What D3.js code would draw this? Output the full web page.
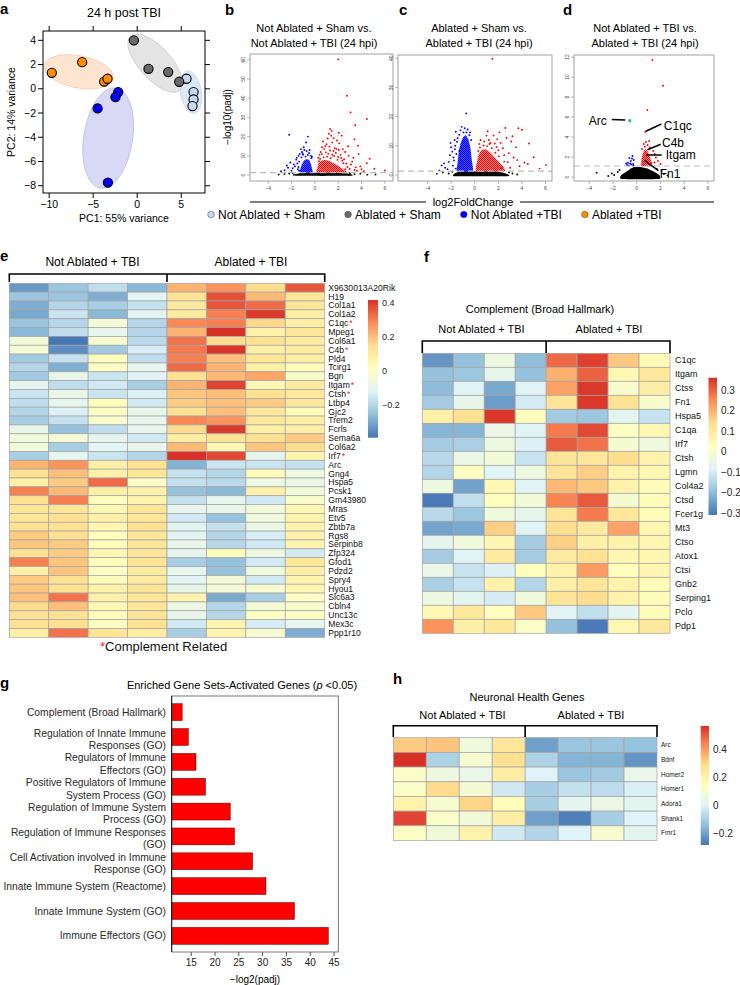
<!DOCTYPE html>
<html>
<head>
<meta charset="utf-8">
<script src="https://cdn.jsdelivr.net/npm/d3@7/dist/d3.min.js"></script>
<style>
  body { margin: 0; background: #fff; }
  svg { font-family: "Liberation Sans", Arial, Helvetica, sans-serif; }
</style>
</head>
<body>
<svg id="fig" width="740" height="985"></svg>
<script>
// ---------------- data ----------------
var groups = ['Not Ablated + Sham', 'Ablated + Sham', 'Not Ablated +TBI', 'Ablated +TBI'];

// panel a: PCA
var pc1 = [5.6, 6.4, 6.4, 6.28, -0.38, 1.28, 3.52, 4.77, -2.16, -2.47, -4.5, -3.33, -9.7, -6.25, -3.75, -3.37];
var pc2 = [0.83, -0.27, -0.88, -1.43, 4.0, 1.65, 1.38, 0.58, -0.27, -0.69, -1.62, -7.74, 1.32, 2.2, 0.6, 0.83];
var pcGroup = [0, 0, 0, 0, 1, 1, 1, 1, 2, 2, 2, 2, 3, 3, 3, 3];
// group ellipses: centre + two semi-axis vectors (PC units)
var ellCx = [6.08, 2.05, -3.3, -6.65];
var ellCy = [-0.27, 2.12, -4.07, 1.4];
var ellAx = [-0.45, 2.78, 0.9, 3.9];
var ellAy = [1.74, -2.23, 4.13, -0.55];
var ellBx = [1.17, -1.34, 2.73, -0.35];
var ellBy = [0.17, -0.88, -0.33, -1.3];
var pcXTicks = [-10, -5, 0, 5];
var pcYTicks = [4, 2, 0, -2, -4, -6, -8];

// panels b-d: volcano plots [log2FC, -log10(padj)]
var volcanoTitles = [
  ['Not Ablated + Sham vs.', 'Not Ablated + TBI (24 hpi)'],
  ['Ablated + Sham vs.', 'Ablated + TBI (24 hpi)'],
  ['Not Ablated + TBI vs.', 'Ablated + TBI (24 hpi)']
];
var volcanoXTicks = [-4, -2, 0, 2, 4, 6];
var volcanoYTicks = [[0, 10, 20, 30, 40, 50, 60], [0, 10, 20, 30, 40], [0, 2, 4, 6, 8, 10, 12]];
var volcanoCutoff = [1.3, 1.3, 1.1];

// dense clouds (outline) + scattered genes
var bBlackCore = [[-1.6, -0.4], [-1.6, 0.5], [-1.1, 1.2], [1.5, 1.2], [2.6, 0.9], [3.1, 0.4], [3.1, -0.4]];
var bBlueCore = [[-1.25, 1.3], [-1.22, 3.5], [-1.1, 5.8], [-0.92, 7.6], [-0.7, 8.4], [-0.5, 7.8], [-0.35, 6], [-0.26, 3.8], [-0.2, 1.3]];
var bRedCore = [[0.2, 1.3], [0.22, 3.8], [0.32, 6], [0.55, 7.4], [0.9, 7.8], [1.3, 7.2], [1.8, 5.6], [2.3, 3.6], [2.6, 2.2], [2.8, 1.3]];
var bBlack = [[-2.2, 0.8], [-2.6, 0.5], [-3.1, 0.3], [-1.9, 1.0], [3.4, 0.4], [3.9, 0.7], [4.5, 0.2], [3.0, 0.9], [-1.8, 0.2], [2.9, 0.2], [-0.9, 1.2], [1.6, 1.2], [5.2, 0.3]];
var bBlue = [[-2.2, 21], [-0.6, 20], [-0.75, 17], [-1.1, 12], [-2.1, 6.5], [-2.4, 5], [-1.6, 8], [-1.4, 10], [-1.9, 3.5], [-2.6, 2.5], [-1.5, 6], [-1.3, 11], [-0.9, 13], [-0.5, 11.5], [-1.7, 4.5], [-2.0, 2.2], [-1.45, 3], [-1.0, 10.5], [-0.7, 12.5], [-1.8, 5.5], [-2.9, 2], [-1.55, 9], [-1.2, 13.5], [-0.35, 10], [-0.95, 14.5], [-0.45, 13], [-1.35, 7], [-2.3, 3.8], [-0.8, 9.6], [-0.6, 10.4], [-1.15, 9.2], [-0.3, 8.8], [-1.4, 4.2], [-1.35, 2.2], [-0.25, 9.5], [-1.05, 11.2]];
var bRed = [[2.0, 60.2], [2.75, 41.3], [3.06, 32.6], [4.46, 29.2], [3.46, 25.9], [1.31, 24], [1.45, 23], [2.3, 20.5], [3.4, 18.6], [3.7, 15.3], [4.7, 8.5], [4.46, 6.1], [6.0, 2.4], [3.9, 4.5], [1.2, 21.5], [1.5, 17], [1.0, 16], [0.8, 13.5], [1.7, 14], [2.1, 16.5], [2.6, 12], [2.9, 10], [1.6, 12.5], [0.5, 12], [3.2, 7], [3.5, 4], [2.2, 10.5], [1.1, 19], [0.9, 15], [1.8, 11.5], [2.5, 8.2], [3.3, 9], [2.7, 6], [0.6, 14.5], [1.4, 20.5], [3.0, 3.2], [4.0, 3], [3.6, 2.2], [1.9, 18], [2.4, 13.5], [0.4, 10.5], [0.7, 17.5], [1.25, 14.8], [2.05, 13], [2.85, 15], [3.1, 5.5], [2.35, 7.5], [0.3, 9], [1.6, 19.2], [0.95, 11.8], [3.75, 11], [4.2, 2], [5.1, 3.3], [2.6, 3], [3.4, 2.6], [2.05, 22], [0.45, 8.4], [0.75, 9.2], [1.05, 9.6], [1.35, 8.8], [1.65, 9.9], [1.95, 7.9], [2.25, 8.9], [0.6, 10.9], [1.15, 11], [1.5, 10.6], [2.0, 9.4], [2.45, 6.1], [2.8, 4.2], [0.35, 7.2], [1.85, 13.6], [1.3, 12.8]];

var cBlackCore = [[-1.7, -0.4], [-1.7, 0.5], [-1.2, 1.2], [1.6, 1.2], [2.4, 0.8], [2.8, 0.3], [2.8, -0.4]];
var cBlueCore = [[-1.5, 1.3], [-1.45, 4], [-1.35, 8], [-1.2, 10.8], [-1.0, 12.8], [-0.78, 13.6], [-0.55, 12.4], [-0.37, 9.5], [-0.24, 5], [-0.16, 1.3]];
var cRedCore = [[0.15, 1.3], [0.2, 4.5], [0.33, 7], [0.6, 8.6], [0.9, 8.8], [1.3, 7.8], [1.8, 5.6], [2.3, 3.4], [2.55, 1.3]];
var cBlack = [[-2.2, 0.5], [-2.7, 0.9], [-3.2, 0.4], [3.2, 0.5], [3.6, 0.2], [-1.9, 1.1], [2.9, 0.9]];
var cBlue = [[-0.72, 21.1], [-1.6, 14.8], [-0.95, 14.6], [-1.3, 8.2], [-1.9, 8], [-2.8, 3.3], [-3.0, 1.6], [-1.7, 12], [-1.65, 10], [-1.8, 6], [-2.2, 4.5], [-2.5, 2.5], [-1.75, 5], [-2.0, 9.5], [-1.2, 15.3], [-0.6, 15.6], [-0.4, 14.6], [-2.3, 2], [-1.85, 3.2], [-2.1, 6.8], [-1.45, 12.6], [-0.85, 16], [-1.1, 16.5], [-2.6, 4], [-1.6, 2.2], [-2.05, 11], [-1.5, 11.4], [-1.55, 7.2], [-0.3, 12], [-0.45, 13.6], [-1.3, 13.8], [-0.7, 14.6], [-1.68, 8.8]];
var cRed = [[1.5, 39.8], [2.6, 16.1], [3.7, 16], [1.6, 13.5], [2.1, 14.6], [4.0, 15.5], [1.9, 12.3], [5.0, 6.1], [4.5, 3.8], [6.05, 3.4], [4.2, 4.3], [2.8, 4.4], [1.2, 12], [0.8, 11.5], [2.4, 9.2], [2.9, 7.5], [3.3, 6], [3.1, 11.5], [2.2, 11], [1.0, 13.5], [0.5, 12], [3.5, 9.5], [2.7, 12.7], [3.8, 3], [3.0, 2.5], [1.7, 10.8], [2.5, 6.8], [3.6, 5.1], [1.35, 11], [0.4, 10.6], [2.0, 8.5], [4.6, 10.8], [3.2, 13.3], [1.1, 15], [5.5, 2.2], [2.3, 2.4], [0.45, 9.4], [0.75, 10.1], [1.05, 9.9], [1.45, 9.2], [1.75, 7.6], [2.05, 6.4], [2.5, 4.6], [0.3, 8.2], [1.25, 10.6], [1.85, 9.6]];

var dBlackCore = [[-1.3, -0.2], [-1.3, 0.2], [-0.9, 0.5], [-0.5, 0.85], [-0.2, 1.0], [0.3, 1.0], [0.9, 0.85], [1.5, 0.5], [1.9, 0.2], [1.9, -0.2]];
var dBlueCore = [];
var dRedCore = [[0.4, 1.1], [0.42, 1.9], [0.55, 2.5], [0.75, 2.8], [0.98, 2.45], [1.18, 1.75], [1.3, 1.1]];
var dBlack = [[-3.38, 0.43], [-2.1, 0.35], [-1.9, 0.2], [-1.6, 0.5], [2.3, 0.3], [2.1, 0.6], [-1.45, 0.7], [1.7, 0.8], [2.6, 0.15], [-2.4, 0.1]];
var dBlue = [[-0.36, 2.1], [-0.73, 1.43], [-0.3, 1.3], [-0.5, 1.6], [-0.62, 1.9], [-0.45, 1.25], [-0.82, 1.2], [-0.25, 1.7], [-0.55, 1.35], [-0.4, 1.85], [-0.68, 1.15], [-0.28, 1.15], [-0.9, 1.35]];
var dRed = [[1.32, 11.7], [2.22, 9.13], [0.9, 6.7], [0.73, 4.53], [0.68, 3.03], [1.52, 2.3], [1.24, 1.37], [0.78, 3.5], [0.92, 3.2], [1.1, 2.95], [0.6, 3.3], [1.8, 1.6], [1.62, 1.95], [0.45, 2.8], [1.4, 2.6], [2.0, 1.3], [1.05, 3.6], [0.85, 2.2], [1.5, 1.45]];
var dGreen = [[-0.59, 5.63]];
var dLabelGenes = ['Arc', 'C1qc', 'C4b', 'Itgam', 'Fn1'];
var dLabelX = [-0.59, 0.73, 0.82, 0.82, 0.68];
var dLabelY = [5.63, 4.53, 2.63, 2.2, 1.63];

// panel e heatmap
var eGenes = ['X9630013A20Rik', 'H19', 'Col1a1', 'Col1a2', 'C1qc', 'Mpeg1', 'Col6a1', 'C4b', 'Pld4', 'Tcirg1',
  'Bgn', 'Itgam', 'Ctsh', 'Ltbp4', 'Gjc2', 'Trem2', 'Fcrls', 'Sema6a', 'Col6a2', 'Irf7',
  'Arc', 'Gng4', 'Hspa5', 'Pcsk1', 'Gm43980', 'Mras', 'Etv5', 'Zbtb7a', 'Rgs8', 'Serpinb8',
  'Zfp324', 'Gfod1', 'Pdzd2', 'Spry4', 'Hyou1', 'Slc6a3', 'Cbln4', 'Unc13c', 'Mex3c', 'Ppp1r10'];
var eComplement = ['C1qc', 'C4b', 'Itgam', 'Ctsh', 'Irf7'];
var eValues = [
  [-0.33, -0.24, -0.18, -0.27, 0.22, 0.27, 0.15, 0.36],
  [-0.24, -0.24, -0.29, -0.11, 0.13, 0.37, 0.21, 0.12],
  [-0.29, -0.2, -0.22, -0.17, 0.11, 0.36, 0.33, 0.12],
  [-0.3, -0.16, -0.27, -0.11, 0.1, 0.3, 0.4, 0.08],
  [-0.24, -0.2, -0.04, -0.2, 0.29, 0.3, 0.16, 0.08],
  [-0.27, -0.18, -0.1, -0.2, 0.22, 0.42, 0.07, 0.12],
  [-0.05, -0.39, -0.03, -0.19, 0.32, 0.15, 0.14, 0.1],
  [-0.04, -0.35, -0.23, -0.14, 0.31, 0.41, 0.08, 0.1],
  [-0.23, -0.17, 0.02, -0.18, 0.3, 0.2, 0.12, 0.08],
  [-0.2, -0.29, 0.0, -0.1, 0.33, 0.22, 0.08, 0.03],
  [-0.23, -0.09, -0.16, -0.12, 0.14, 0.21, 0.24, -0.02],
  [-0.1, -0.18, -0.15, -0.22, 0.22, 0.39, 0.04, 0.1],
  [-0.16, -0.09, -0.16, -0.13, 0.19, 0.2, 0.14, 0.11],
  [-0.18, -0.1, 0.02, -0.15, 0.18, 0.2, 0.18, 0.11],
  [-0.2, -0.13, 0.0, -0.09, 0.14, 0.2, 0.11, 0.03],
  [-0.22, -0.17, -0.02, -0.1, 0.29, 0.27, 0.11, 0.08],
  [-0.09, -0.25, -0.18, -0.1, 0.15, 0.4, 0.08, 0.08],
  [-0.06, -0.04, -0.1, -0.15, 0.09, 0.12, 0.14, 0.18],
  [-0.05, -0.22, -0.11, -0.09, 0.21, 0.04, 0.19, 0.15],
  [-0.22, -0.1, -0.16, -0.2, 0.42, 0.38, -0.1, 0.06],
  [0.22, 0.27, 0.08, 0.14, -0.28, -0.16, -0.16, -0.17],
  [0.14, 0.2, 0.07, 0.12, -0.17, -0.2, 0.03, -0.07],
  [0.08, 0.18, 0.33, -0.01, -0.17, -0.19, -0.07, -0.08],
  [0.3, 0.21, 0.08, 0.07, -0.25, -0.27, 0.07, -0.05],
  [0.14, 0.3, 0.02, 0.06, -0.17, -0.1, -0.15, -0.02],
  [0.12, 0.12, 0.05, 0.12, -0.1, -0.09, -0.05, 0.05],
  [0.12, 0.14, 0.07, 0.12, -0.15, -0.25, -0.06, 0.06],
  [0.14, 0.14, 0.05, 0.14, -0.11, -0.17, -0.08, 0.06],
  [0.18, 0.14, 0.02, 0.12, -0.11, -0.2, -0.14, 0.07],
  [0.19, 0.18, 0.02, 0.12, -0.09, -0.2, -0.15, 0.06],
  [0.14, 0.18, 0.05, 0.12, -0.1, 0.02, -0.07, -0.15],
  [0.3, 0.19, 0.02, 0.13, -0.22, -0.25, -0.15, 0.12],
  [0.08, 0.19, 0.0, 0.1, -0.1, -0.25, -0.06, 0.08],
  [0.18, 0.14, 0.03, 0.1, -0.11, -0.04, -0.15, 0.06],
  [0.19, 0.14, 0.07, 0.13, -0.09, -0.04, -0.03, 0.05],
  [0.2, 0.32, 0.07, 0.13, 0.06, -0.3, -0.22, 0.0],
  [0.15, 0.2, 0.04, 0.12, -0.07, -0.2, -0.04, -0.02],
  [0.14, 0.14, 0.03, 0.13, -0.09, -0.2, 0.0, 0.0],
  [0.14, 0.14, 0.0, 0.14, -0.15, 0.06, -0.14, -0.1],
  [0.08, 0.32, 0.12, 0.09, -0.22, 0.06, -0.03, -0.29]
];
var eRange = [-0.394, 0.416];
var eTicks = [0.4, 0.2, 0, -0.2];

// panel f heatmap
var fGenes = ['C1qc', 'Itgam', 'Ctss', 'Fn1', 'Hspa5', 'C1qa', 'Irf7', 'Ctsh', 'Lgmn', 'Col4a2',
  'Ctsd', 'Fcer1g', 'Mt3', 'Ctso', 'Atox1', 'Ctsi', 'Gnb2', 'Serping1', 'Pclo', 'Pdp1'];
var fValues = [
  [-0.26, -0.19, -0.04, -0.2, 0.29, 0.34, 0.17, 0.04],
  [-0.19, -0.18, -0.06, -0.19, 0.2, 0.3, 0.05, 0.11],
  [-0.2, -0.08, -0.23, -0.08, 0.22, 0.35, 0.0, 0.09],
  [-0.17, -0.06, -0.25, -0.1, 0.12, 0.35, 0.13, 0.0],
  [0.08, 0.13, 0.35, 0.03, -0.17, -0.18, -0.07, -0.12],
  [-0.21, -0.21, -0.05, -0.08, 0.27, 0.33, 0.02, 0.05],
  [-0.17, -0.16, -0.04, -0.09, 0.31, 0.28, -0.01, -0.03],
  [-0.14, -0.05, -0.02, -0.12, 0.12, 0.11, 0.14, 0.07],
  [-0.15, 0.02, -0.08, -0.04, 0.12, 0.16, 0.07, 0.05],
  [-0.04, -0.24, 0.05, -0.08, 0.19, 0.17, 0.07, 0.04],
  [-0.3, -0.13, 0.03, -0.02, 0.26, 0.31, -0.01, 0.04],
  [-0.14, -0.18, -0.03, -0.06, 0.12, 0.27, 0.11, 0.04],
  [-0.24, -0.23, 0.16, -0.08, 0.14, 0.1, 0.22, 0.06],
  [-0.07, -0.03, 0.06, -0.17, 0.16, 0.08, 0.07, 0.06],
  [-0.17, -0.08, 0.1, -0.17, 0.1, 0.13, 0.06, 0.06],
  [-0.05, -0.12, -0.09, 0.03, 0.07, 0.23, 0.03, 0.06],
  [-0.16, -0.12, 0.07, -0.15, 0.08, 0.12, 0.07, 0.04],
  [-0.04, -0.07, -0.1, -0.03, 0.12, 0.14, 0.07, 0.04],
  [0.05, 0.11, 0.03, 0.17, -0.08, -0.13, -0.07, 0.04],
  [0.24, 0.08, 0.11, 0.01, -0.19, -0.3, 0.06, 0.11]
];
var fRange = [-0.308, 0.36];
var fTicks = [0.3, 0.2, 0.1, 0, -0.1, -0.2, -0.3];

// panel g: enriched gene sets
var gTerms = ['Complement (Broad Hallmark)', 'Regulation of Innate Immune|Responses (GO)', 'Regulators of Immune|Effectors (GO)',
  'Positive Regulators of Immune|System Process (GO)', 'Regulation of Immune System|Process (GO)', 'Regulation of Immune Responses|(GO)',
  'Cell Activation involved in Immune|Response (GO)', 'Innate Immune System (Reactome)', 'Innate Immune System (GO)', 'Immune Effectors (GO)'];
var gScores = [13.2, 14.5, 16.1, 18.1, 23.3, 24.2, 28.0, 30.8, 36.8, 43.9];
var gTicks = [15, 20, 25, 30, 35, 40, 45];

// panel h heatmap
var hGenes = ['Arc', 'Bdnf', 'Homer2', 'Homer1', 'Adora1', 'Shank1', 'Fmr1'];
var hValues = [
  [0.32, 0.33, 0.07, 0.25, -0.2, -0.12, -0.12, -0.13],
  [0.56, -0.09, 0.1, 0.28, -0.09, -0.16, -0.16, -0.22],
  [0.12, 0.06, 0.04, 0.22, 0.0, -0.12, -0.11, 0.04],
  [0.12, 0.29, 0.09, -0.03, -0.1, -0.05, -0.06, -0.01],
  [0.2, 0.1, 0.3, 0.15, -0.1, 0.02, 0.05, 0.02],
  [0.53, 0.12, 0.08, 0.22, -0.2, -0.26, -0.1, 0.0],
  [0.13, 0.08, 0.2, -0.03, -0.08, 0.0, 0.1, 0.02]
];
var hRange = [-0.28, 0.563];
var hTicks = [0.4, 0.2, 0, -0.2];

// ---------------- styles ----------------
var groupFill = ['#c6d9f1', '#6a6a6a', '#0000ff', '#ff8c00'];
var ellFill = ['#dce8f7', '#e4e4e4', '#d9d9f6', '#fde4d1'];
var ellStroke = ['#c9dbf0', '#cdcdcd', '#c2c2ea', '#f6cfb3'];
var rdylbu = ['#4575b4', '#91bfdb', '#e0f3f8', '#ffffbf', '#fee090', '#fc8d59', '#d73027'];
var minus = function (v) { return String(v).replace('-', '\u2212'); };

var svg = d3.select('#fig');
var defs = svg.append('defs');

// speckle patterns for the dense volcano clouds
var vColors = ['#000000', '#0000ff', '#ff0000'];
var vDotSize = [2, 1.7, 1.45];
vColors.forEach(function (c, i) {
  var p = defs.append('pattern').attr('id', 'speck' + i).attr('patternUnits', 'userSpaceOnUse')
    .attr('width', 2).attr('height', 2);
  p.append('rect').attr('width', vDotSize[i]).attr('height', vDotSize[i]).attr('fill', c);
  p.append('rect').attr('x', 1).attr('y', 1).attr('width', vDotSize[i]).attr('height', vDotSize[i]).attr('fill', c);
});

// panel letters
[['a', 0, 14], ['b', 225, 15], ['c', 399, 15], ['d', 563, 15], ['e', 0, 261], ['f', 424, 262], ['g', 0, 688], ['h', 393, 684]]
  .forEach(function (l) {
    svg.append('text').attr('x', l[1]).attr('y', l[2]).text(l[0])
      .style('font-weight', 'bold').style('font-size', '15px');
  });

// ---------------- a: PCA ----------------
function drawPCA() {
  var g = svg.append('g');
  var x = d3.scaleLinear().domain([-10.7, 7.7]).range([43, 205]);
  var y = d3.scaleLinear().domain([-8.6, 4.77]).range([193, 31]);
  var line = d3.line().x(function (p) { return x(p[0]); }).y(function (p) { return y(p[1]); }).curve(d3.curveLinearClosed);

  groups.forEach(function (gr, i) {
    var pts = d3.range(72).map(function (k) {
      var t = k / 72 * 2 * Math.PI;
      return [ellCx[i] + ellAx[i] * Math.cos(t) + ellBx[i] * Math.sin(t),
              ellCy[i] + ellAy[i] * Math.cos(t) + ellBy[i] * Math.sin(t)];
    });
    g.append('path').attr('d', line(pts)).attr('fill', ellFill[i]).attr('stroke', ellStroke[i]).attr('stroke-width', 1);
  });

  g.selectAll('.pt').data(pc1).enter().append('circle')
    .attr('cx', function (d) { return x(d); })
    .attr('cy', function (d, i) { return y(pc2[i]); })
    .attr('r', 4.6)
    .attr('fill', function (d, i) { return groupFill[pcGroup[i]]; })
    .attr('stroke', '#000').attr('stroke-width', 1.1);

  g.append('rect').attr('x', 43).attr('y', 31).attr('width', 162).attr('height', 162)
    .attr('fill', 'none').attr('stroke', '#000').attr('stroke-width', 1);

  pcXTicks.forEach(function (t) {
    g.append('line').attr('x1', x(t)).attr('x2', x(t)).attr('y1', 31).attr('y2', 26).attr('stroke', '#000');
    g.append('line').attr('x1', x(t)).attr('x2', x(t)).attr('y1', 193).attr('y2', 198).attr('stroke', '#000');
    g.append('text').attr('x', x(t)).attr('y', 208).attr('text-anchor', 'middle')
      .style('font-size', '10.5px').text(minus(t));
  });
  pcYTicks.forEach(function (t) {
    g.append('line').attr('x1', 43).attr('x2', 38).attr('y1', y(t)).attr('y2', y(t)).attr('stroke', '#000');
    g.append('line').attr('x1', 205).attr('x2', 210).attr('y1', y(t)).attr('y2', y(t)).attr('stroke', '#000');
    g.append('text').attr('x', 36).attr('y', y(t)).attr('dy', '0.35em').attr('text-anchor', 'end')
      .style('font-size', '10.5px').text(minus(t));
  });
  g.append('text').attr('x', 124).attr('y', 17).attr('text-anchor', 'middle').style('font-size', '12.5px').text('24 h post TBI');
  g.append('text').attr('x', 124).attr('y', 222).attr('text-anchor', 'middle').style('font-size', '10.5px').text('PC1: 55% variance');
  g.append('text').attr('transform', 'translate(15,112) rotate(-90)').attr('text-anchor', 'middle')
    .style('font-size', '10.5px').text('PC2: 14% variance');
}
drawPCA();

// ---------------- b-d: volcano ----------------
var vBoxes = [
  { x0: 250, x1: 393, y0: 54, y1: 181, xd: [-5.56, 6.7], yd: [-3.1, 63], cx: 314 },
  { x0: 398, x1: 552, y0: 55, y1: 181, xd: [-6.5, 6.55], yd: [-2.05, 41.1], cx: 479 },
  { x0: 574, x1: 714, y0: 55, y1: 181, xd: [-5.29, 6.52], yd: [-0.4, 12.2], cx: 645 }
];
var vSets = [
  { core: [bBlackCore, bBlueCore, bRedCore], pts: [bBlack, bBlue, bRed] },
  { core: [cBlackCore, cBlueCore, cRedCore], pts: [cBlack, cBlue, cRed] },
  { core: [dBlackCore, dBlueCore, dRedCore], pts: [dBlack, dBlue, dRed] }
];

function drawVolcano(k) {
  var b = vBoxes[k];
  var g = svg.append('g');
  var x = d3.scaleLinear().domain(b.xd).range([b.x0, b.x1]);
  var y = d3.scaleLinear().domain(b.yd).range([b.y1, b.y0]);
  var clipId = 'vclip' + k;
  g.append('clipPath').attr('id', clipId).append('rect')
    .attr('x', b.x0).attr('y', b.y0).attr('width', b.x1 - b.x0).attr('height', b.y1 - b.y0);
  var inner = g.append('g').attr('clip-path', 'url(#' + clipId + ')');

  var poly = d3.line().x(function (p) { return x(p[0]); }).y(function (p) { return y(p[1]); }).curve(d3.curveCardinalClosed.tension(0.6));
  vSets[k].core.forEach(function (c, i) {
    if (c.length) inner.append('path').attr('d', poly(c)).attr('fill', 'url(#speck' + i + ')');
  });
  vSets[k].pts.forEach(function (set, i) {
    inner.selectAll('.p' + i).data(set).enter().append('circle')
      .attr('cx', function (d) { return x(d[0]); }).attr('cy', function (d) { return y(d[1]); })
      .attr('r', 0.95).attr('fill', vColors[i]);
  });
  inner.append('line').attr('x1', b.x0).attr('x2', b.x1)
    .attr('y1', y(volcanoCutoff[k])).attr('y2', y(volcanoCutoff[k]))
    .attr('stroke', '#bbbbbb').attr('stroke-width', 1.2).attr('stroke-dasharray', '6,4');

  g.append('rect').attr('x', b.x0).attr('y', b.y0).attr('width', b.x1 - b.x0).attr('height', b.y1 - b.y0)
    .attr('fill', 'none').attr('stroke', '#8a8a8a').attr('stroke-width', 0.8);

  volcanoXTicks.forEach(function (t) {
    g.append('line').attr('x1', x(t)).attr('x2', x(t)).attr('y1', b.y1).attr('y2', b.y1 + 3).attr('stroke', '#8a8a8a').attr('stroke-width', 0.6);
    g.append('text').attr('x', x(t)).attr('y', b.y1 + 9).attr('text-anchor', 'middle')
      .style('font-size', '5px').attr('fill', '#444').text(minus(t));
  });
  volcanoYTicks[k].forEach(function (t) {
    g.append('line').attr('x1', b.x0).attr('x2', b.x0 - 3).attr('y1', y(t)).attr('y2', y(t)).attr('stroke', '#8a8a8a').attr('stroke-width', 0.6);
    g.append('text').attr('transform', 'translate(' + (b.x0 - 5) + ',' + y(t) + ') rotate(-90)')
      .attr('text-anchor', 'middle').style('font-size', '5px').attr('fill', '#444').text(t);
  });
  volcanoTitles[k].forEach(function (s, j) {
    g.append('text').attr('x', b.cx).attr('y', 32 + j * 14.5).attr('text-anchor', 'middle')
      .style('font-size', '11px').text(s);
  });
  return { g: g, x: x, y: y };
}
drawVolcano(0);
drawVolcano(1);
var vd = drawVolcano(2);

svg.append('text').attr('transform', 'translate(231,117) rotate(-90)').attr('text-anchor', 'middle')
  .style('font-size', '10px').text('\u2212log10(padj)');

// d: highlighted genes and labels
vd.g.selectAll('.green').data(dGreen).enter().append('circle')
  .attr('cx', function (d) { return vd.x(d[0]); }).attr('cy', function (d) { return vd.y(d[1]); })
  .attr('r', 1.6).attr('fill', '#1fc48a');
var dLabelLayout = [
  { l1: [-18, -1.2], l2: [-4.5, -0.6], t: [-23, 0], anchor: 'end' },
  { l1: [0.5, -0.5], l2: [16, -7.7], t: [18.5, -6], anchor: 'start' },
  { l1: [1, -1], l2: [14.3, -6.4], t: [15.6, -8.4], anchor: 'start' },
  { l1: [0, 0], l2: [15.3, 0], t: [19.3, 0], anchor: 'start' },
  { l1: [0, 0], l2: [13.6, 10], t: [15, 12.6], anchor: 'start' }
];
dLabelGenes.forEach(function (gene, i) {
  var px = vd.x(dLabelX[i]), py = vd.y(dLabelY[i]), L = dLabelLayout[i];
  vd.g.append('line').attr('x1', px + L.l1[0]).attr('y1', py + L.l1[1]).attr('x2', px + L.l2[0]).attr('y2', py + L.l2[1])
    .attr('stroke', '#000').attr('stroke-width', 1.5);
  vd.g.append('text').attr('x', px + L.t[0]).attr('y', py + L.t[1]).attr('dy', '0.35em')
    .attr('text-anchor', L.anchor).style('font-size', '12px').text(gene);
});

// shared x label and group legend
svg.append('line').attr('x1', 250).attr('x2', 426).attr('y1', 202).attr('y2', 202).attr('stroke', '#000').attr('stroke-width', 1.2);
svg.append('line').attr('x1', 520).attr('x2', 714).attr('y1', 202).attr('y2', 202).attr('stroke', '#000').attr('stroke-width', 1.2);
svg.append('text').attr('x', 473).attr('y', 206).attr('text-anchor', 'middle').style('font-size', '11px').text('log2FoldChange');

// legend laid out left to right from measured text widths
var legendG = svg.append('g');
var lx = 207;
groups.forEach(function (gr, i) {
  legendG.append('circle').attr('cx', lx + 4).attr('cy', 214.5).attr('r', 3.3)
    .attr('fill', groupFill[i]).attr('stroke', '#444').attr('stroke-width', 0.5);
  var t = legendG.append('text').attr('x', lx + 11).attr('y', 218.8).style('font-size', '12px').text(gr);
  lx += 11 + t.node().getComputedTextLength() + 19;
});

// ---------------- heatmaps ----------------
function heatColor(range) {
  return d3.scaleLinear()
    .domain(rdylbu.map(function (c, i) { return range[0] + (range[1] - range[0]) * i / 6; }))
    .range(rdylbu).clamp(true);
}

function drawHeatmap(cfg) {
  var g = svg.append('g');
  var xb = d3.scaleBand().domain(d3.range(8)).range([cfg.x0, cfg.x1]);
  var yb = d3.scaleBand().domain(cfg.genes).range([cfg.y0, cfg.y1]);
  var color = heatColor(cfg.range);
  var cells = [];
  cfg.values.forEach(function (row, r) {
    row.forEach(function (v, c) { cells.push({ gene: cfg.genes[r], col: c, v: v }); });
  });
  g.selectAll('rect.cell').data(cells).enter().append('rect')
    .attr('x', function (d) { return xb(d.col); })
    .attr('y', function (d) { return yb(d.gene); })
    .attr('width', xb.bandwidth()).attr('height', yb.bandwidth())
    .attr('fill', function (d) { return color(d.v); })
    .attr('stroke', '#a3a3a3').attr('stroke-width', 0.7);

  var labels = g.selectAll('text.gene').data(cfg.genes).enter().append('text')
    .attr('x', cfg.x1 + cfg.labelGap)
    .attr('y', function (d) { return yb(d) + yb.bandwidth() / 2; })
    .attr('dy', '0.35em').style('font-size', cfg.labelSize + 'px').attr('fill', '#111')
    .text(function (d) { return d; });
  if (cfg.starred) {
    labels.filter(function (d) { return cfg.starred.indexOf(d) >= 0; })
      .append('tspan').attr('fill', '#e8262b').attr('dx', 1).text('*');
  }

  // bracket over the two groups
  var mid = xb(4);
  g.append('path')
    .attr('d', 'M' + cfg.x0 + ',' + cfg.by1 + 'V' + cfg.by0 + 'H' + cfg.x1 + 'V' + cfg.by1 + 'M' + mid + ',' + cfg.by0 + 'V' + cfg.by1)
    .attr('fill', 'none').attr('stroke', '#000').attr('stroke-width', 1.6);
  g.append('text').attr('x', cfg.t1x).attr('y', cfg.ty).attr('text-anchor', 'middle')
    .style('font-size', cfg.titleSize + 'px').text('Not Ablated + TBI');
  g.append('text').attr('x', cfg.t2x).attr('y', cfg.ty).attr('text-anchor', 'middle')
    .style('font-size', cfg.titleSize + 'px').text('Ablated + TBI');
  if (cfg.heading) {
    g.append('text').attr('x', cfg.hx).attr('y', cfg.hy).attr('text-anchor', 'middle')
      .style('font-size', '11px').text(cfg.heading);
  }

  // colour key
  var gid = 'grad' + cfg.id;
  var grad = defs.append('linearGradient').attr('id', gid)
    .attr('x1', 0).attr('x2', 0).attr('y1', 1).attr('y2', 0);
  rdylbu.forEach(function (c, i) {
    grad.append('stop').attr('offset', (i / 6 * 100) + '%').attr('stop-color', c);
  });
  var ky = d3.scaleLinear().domain(cfg.range).range([cfg.ky1, cfg.ky0]);
  g.append('rect').attr('x', cfg.kx).attr('y', cfg.ky0).attr('width', cfg.kw).attr('height', cfg.ky1 - cfg.ky0)
    .attr('fill', 'url(#' + gid + ')');
  cfg.ticks.forEach(function (t) {
    g.append('text').attr('x', cfg.kx + cfg.kw + 4).attr('y', ky(t)).attr('dy', '0.35em')
      .style('font-size', cfg.keySize + 'px').attr('fill', '#222').text(minus(t));
  });
}

drawHeatmap({
  id: 'e', genes: eGenes, values: eValues, range: eRange, ticks: eTicks, starred: eComplement,
  x0: 9.3, x1: 324.7, y0: 283.3, y1: 637.3, labelGap: 3.6, labelSize: 8.6,
  by0: 274, by1: 282, t1x: 92.5, t2x: 251, ty: 266, titleSize: 12,
  kx: 368, kw: 10, ky0: 300, ky1: 437.7, keySize: 9
});
svg.append('text').attr('x', 100).attr('y', 651).style('font-size', '13px')
  .call(function (t) {
    t.append('tspan').attr('fill', '#e8262b').text('*');
    t.append('tspan').attr('fill', '#111').text('Complement Related');
  });

drawHeatmap({
  id: 'f', genes: fGenes, values: fValues, range: fRange, ticks: fTicks,
  x0: 422.3, x1: 670, y0: 353.3, y1: 633.3, labelGap: 5, labelSize: 9,
  by0: 341, by1: 353, t1x: 481.5, t2x: 609, ty: 333, titleSize: 11,
  heading: 'Complement (Broad Hallmark)', hx: 540, hy: 313,
  kx: 708.5, kw: 8.5, ky0: 377.7, ky1: 515, keySize: 10
});

drawHeatmap({
  id: 'h', genes: hGenes, values: hValues, range: hRange, ticks: hTicks,
  x0: 393.3, x1: 657, y0: 737.7, y1: 840.5, labelGap: 4, labelSize: 6.5,
  by0: 725.7, by1: 737, t1x: 462.5, t2x: 591, ty: 718.5, titleSize: 11,
  heading: 'Neuronal Health Genes', hx: 527, hy: 700.5,
  kx: 700.7, kw: 8.3, ky0: 726, ky1: 845, keySize: 10
});

// ---------------- g: bar chart ----------------
function drawBars() {
  var g = svg.append('g');
  var x = d3.scaleLinear().domain([11, 46]).range([171.7, 338.3]);
  var y = d3.scaleBand().domain(gTerms).range([696, 952]).paddingInner(0.32).paddingOuter(0.31);

  g.selectAll('rect.bar').data(gTerms).enter().append('rect')
    .attr('x', x(11)).attr('y', function (d) { return y(d); })
    .attr('width', function (d, i) { return x(gScores[i]) - x(11); })
    .attr('height', y.bandwidth())
    .attr('fill', '#ff0000').attr('stroke', '#5a0000').attr('stroke-width', 0.5);

  g.append('rect').attr('x', 171.7).attr('y', 696).attr('width', 338.3 - 171.7).attr('height', 952 - 696)
    .attr('fill', 'none').attr('stroke', '#555').attr('stroke-width', 0.8);
  g.append('line').attr('x1', 171.7).attr('x2', 171.7).attr('y1', 696).attr('y2', 952).attr('stroke', '#111').attr('stroke-width', 1);

  var axis = d3.axisBottom(x).tickValues(gTicks).tickSize(4).tickPadding(3);
  g.append('g').attr('transform', 'translate(0,952)').call(axis)
    .call(function (a) { a.select('.domain').remove(); })
    .call(function (a) {
      a.selectAll('text').style('font-size', '10px').attr('fill', '#222')
        .style('font-family', '"Liberation Sans", Arial, sans-serif');
      a.selectAll('line').attr('stroke', '#555');
    });

  gTerms.forEach(function (term) {
    var lines = term.split('|');
    var cy = y(term) + y.bandwidth() / 2;
    lines.forEach(function (s, j) {
      var off = lines.length === 1 ? 0 : (j === 0 ? -4 : 8.3);
      g.append('text').attr('x', 166).attr('y', cy + off).attr('dy', '0.35em').attr('text-anchor', 'end')
        .style('font-size', '10.3px').attr('fill', '#2a2a2a').text(s);
    });
  });

  g.append('text').attr('x', 242).attr('y', 689).attr('text-anchor', 'middle').style('font-size', '11px')
    .call(function (t) {
      t.append('tspan').text('Enriched Gene Sets-Activated Genes (');
      t.append('tspan').style('font-style', 'italic').text('p');
      t.append('tspan').text(' <0.05)');
    });
  g.append('text').attr('x', 255).attr('y', 983).attr('text-anchor', 'middle').style('font-size', '10px')
    .text('\u2212log2(padj)');
}
drawBars();
</script>
</body>
</html>
